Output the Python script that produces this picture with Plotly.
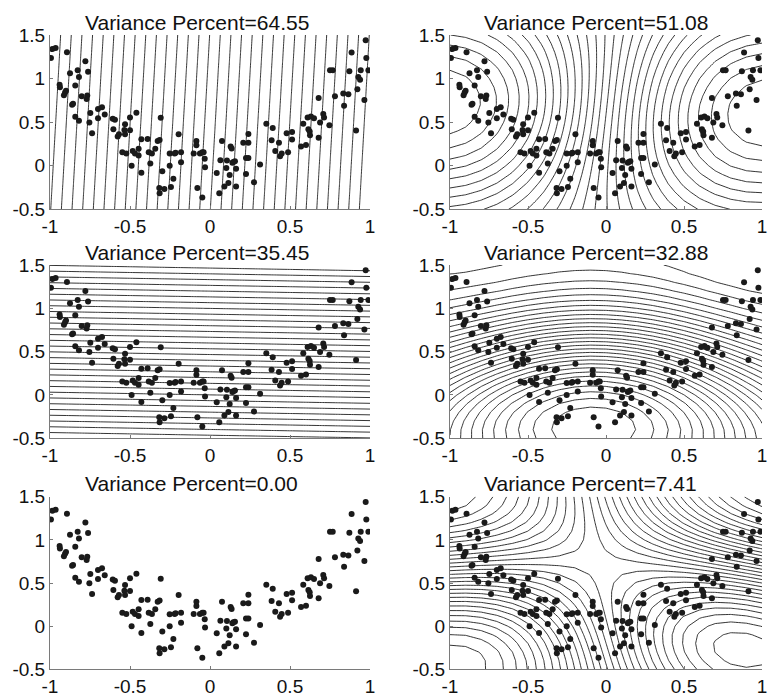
import numpy as np
import plotly.graph_objects as go

# Sample points: noisy parabola y ~ x^2
x_pts = [-0.994, -0.985, -0.965, -0.894, -0.940, -0.938, -0.913, -0.906, -0.900, -0.875,
         -0.862, -0.856, -0.842, -0.827, -0.819, -0.842, -0.819, -0.802, -0.779, -0.762,
         -0.771, -0.767, -0.748, -0.754, -0.737, -0.700, -0.675, -0.700, -0.658, -0.608,
         -0.594, -0.604, -0.577, -0.569, -0.531, -0.535, -0.531, -0.500, -0.500, -0.460,
         -0.548, -0.523, -0.483, -0.469, -0.490, -0.446, -0.446, -0.429, -0.429, -0.390,
         -0.383, -0.363, -0.373, -0.342, -0.327, -0.315, -0.308, -0.317, -0.315, -0.298,
         -0.285, -0.252, -0.252, -0.244, -0.229, -0.221, -0.215, -0.196, -0.181, -0.181,
         -0.102, -0.085, -0.085, -0.079, -0.063, -0.048, -0.040, -0.033, -0.048, -0.031,
         0.042, 0.058, 0.065, 0.075, 0.090, 0.102, 0.106, 0.115, 0.123, 0.129,
         0.135, 0.140, 0.146, 0.156, 0.163, 0.163, 0.208, 0.240, 0.225, 0.240,
         0.240, 0.225, 0.275, 0.313, 0.352, 0.392, 0.385, 0.408, 0.431, 0.438,
         0.448, 0.479, 0.488, 0.513, 0.513, 0.569, 0.583, 0.600, 0.610, 0.631,
         0.615, 0.623, 0.625, 0.650, 0.679, 0.679, 0.688, 0.708, 0.713, 0.746,
         0.750, 0.767, 0.781, 0.833, 0.838, 0.865, 0.871, 0.885, 0.913, 0.921,
         0.927, 0.938, 0.942, 0.965, 0.977, 0.973, 0.990]
y_pts = [1.237, 1.338, 1.350, 1.303, 0.930, 0.900, 0.810, 0.840, 0.860, 1.060,
         0.700, 0.710, 0.920, 1.095, 1.017, 0.562, 0.515, 0.797, 1.200, 1.079,
         0.766, 0.805, 0.604, 0.496, 0.373, 0.650, 0.670, 0.546, 0.589, 0.540,
         0.527, 0.419, 0.334, 0.360, 0.477, 0.411, 0.360, 0.554, 0.407, 0.608,
         0.156, 0.141, 0.168, 0.141, 0.000, 0.195, 0.118, 0.303, -0.080, 0.307,
         0.156, 0.141, 0.025, 0.195, 0.284, 0.296, 0.550, -0.257, -0.315, -0.062,
         -0.268, 0.139, 0.000, -0.245, -0.149, 0.141, 0.149, 0.361, 0.156, 0.040,
         0.141, 0.284, 0.234, -0.257, 0.141, 0.156, 0.156, 0.079, -0.365, -0.017,
         -0.083, -0.315, 0.064, 0.284, -0.237, -0.027, 0.060, -0.197, -0.105, 0.222,
         0.199, 0.033, 0.044, 0.052, -0.035, -0.237, 0.264, 0.264, 0.090, 0.090,
         0.365, -0.094, -0.191, 0.013, 0.481, 0.434, 0.292, 0.168, 0.264, 0.110,
         0.141, 0.373, 0.156, 0.388, 0.300, 0.222, 0.481, 0.237, 0.554, 0.566,
         0.419, 0.392, 0.350, 0.546, 0.322, 0.778, 0.496, 0.593, 0.554, 0.465,
         1.095, 1.095, 0.797, 0.828, 0.689, 0.820, 1.083, 1.300, 0.403, 0.878,
         1.017, 0.986, 1.095, 0.755, 1.237, 1.440, 1.095]

# Panel titles, row by row (left column: linear kernel, right column: Gaussian kernel)
titles = ["Variance Percent=64.55", "Variance Percent=51.08",
          "Variance Percent=35.45", "Variance Percent=32.88",
          "Variance Percent=0.00", "Variance Percent=7.41"]
kernels = ["linear", "rbf"]
RBF_SIGMA = 0.95

x_tick_vals = [-1, -0.5, 0, 0.5, 1]
x_tick_text = ["-1", "-0.5", "0", "0.5", "1"]
y_tick_vals = [-0.5, 0, 0.5, 1, 1.5]
y_tick_text = ["-0.5", "0", "0.5", "1", "1.5"]

X_RANGE = [-1, 1]
Y_RANGE = [-0.5, 1.5]
N_LEVELS = 30
FONT = "Liberation Sans, Arial, Helvetica, sans-serif"

W, H = 770, 697


def kernel(a, b, kind):
    if kind == "linear":
        return a @ b.T + 1.0
    d2 = ((a[:, None, :] - b[None, :, :]) ** 2).sum(-1)
    return np.exp(-d2 / (2 * RBF_SIGMA ** 2))


def kernel_pca(data, kind, grid):
    """Kernel PCA of `data`; returns variance fractions and grid projections."""
    n = len(data)
    K = kernel(data, data, kind)
    one_n = np.full((n, n), 1.0 / n)
    Kc = K - one_n @ K - K @ one_n + one_n @ K @ one_n
    lam, vec = np.linalg.eigh(Kc)
    order = np.argsort(lam)[::-1]
    lam = np.clip(lam[order], 0, None)
    vec = vec[:, order]
    frac = lam / lam.sum()
    keep = lam > 1e-10 * lam.max()
    alpha = np.zeros_like(vec)
    alpha[:, keep] = vec[:, keep] / np.sqrt(lam[keep])
    m = len(grid)
    Kt = kernel(grid, data, kind)
    one_m = np.full((m, n), 1.0 / n)
    Ktc = Kt - one_m @ K - Kt @ one_n + one_m @ K @ one_n
    return frac, Ktc @ alpha[:, :3]


data = np.column_stack([x_pts, y_pts])
gx = np.linspace(X_RANGE[0], X_RANGE[1], 21)
gy = np.linspace(Y_RANGE[0], Y_RANGE[1], 21)
GX, GY = np.meshgrid(gx, gy)
grid = np.column_stack([GX.ravel(), GY.ravel()])

# pixel boxes of the plotting areas
col_px = [(50, 370), (450, 762)]
row_px = [(35, 209.3), (265, 438.3), (496.7, 669.3)]
title_x_px = [83, 482]
title_y_px = [22, 252, 483]

results = [kernel_pca(data, kind, grid) for kind in kernels]

fig = go.Figure()
layout_axes = {}
annotations = []

panel = 0
for r in range(3):
    for c in range(2):
        panel += 1
        frac, proj = results[c]
        xa = "x" if panel == 1 else f"x{panel}"
        ya = "y" if panel == 1 else f"y{panel}"
        if frac[r] > 1e-8:
            Z = proj[:, r].reshape(GX.shape)
            levels = np.linspace(Z.min(), Z.max(), N_LEVELS + 2)[1:-1]
            fig.add_trace(go.Contour(
                x=gx, y=gy, z=Z, xaxis=xa, yaxis=ya,
                contours=dict(coloring="lines", start=levels[0], end=levels[-1],
                              size=levels[1] - levels[0], showlabels=False),
                colorscale=[[0, "#000000"], [1, "#000000"]],
                line=dict(width=0.8, smoothing=0),
                showscale=False, hoverinfo="skip"))
        fig.add_trace(go.Scatter(
            x=x_pts, y=y_pts, xaxis=xa, yaxis=ya, mode="markers",
            marker=dict(size=6, color="#1a1a1a"), showlegend=False))

        l, rr = col_px[c]
        t, b = row_px[r]
        axis_common = dict(showline=True, linecolor="#7a7a7a", linewidth=1,
                           ticks="inside", ticklen=3, tickcolor="#7a7a7a",
                           showgrid=False, zeroline=False, mirror=False,
                           automargin=False, ticklabeloverflow="allow",
                           tickfont=dict(family=FONT, size=19, color="#111111"))
        layout_axes["xaxis" if panel == 1 else f"xaxis{panel}"] = dict(
            domain=[l / W, rr / W], range=X_RANGE, anchor=ya,
            tickvals=x_tick_vals, ticktext=x_tick_text, **axis_common)
        layout_axes["yaxis" if panel == 1 else f"yaxis{panel}"] = dict(
            domain=[1 - b / H, 1 - t / H], range=Y_RANGE, anchor=xa,
            tickvals=y_tick_vals, ticktext=y_tick_text, **axis_common)
        annotations.append(dict(
            text=titles[panel - 1], xref="paper", yref="paper",
            x=title_x_px[c] / W, y=1 - title_y_px[r] / H,
            xanchor="left", yanchor="middle", showarrow=False,
            font=dict(family=FONT, size=21, color="#111111")))

fig.update_layout(
    width=W, height=H, margin=dict(l=0, r=0, t=0, b=0),
    paper_bgcolor="white", plot_bgcolor="white", showlegend=False,
    annotations=annotations, **layout_axes)

fig.write_html("out.html")
